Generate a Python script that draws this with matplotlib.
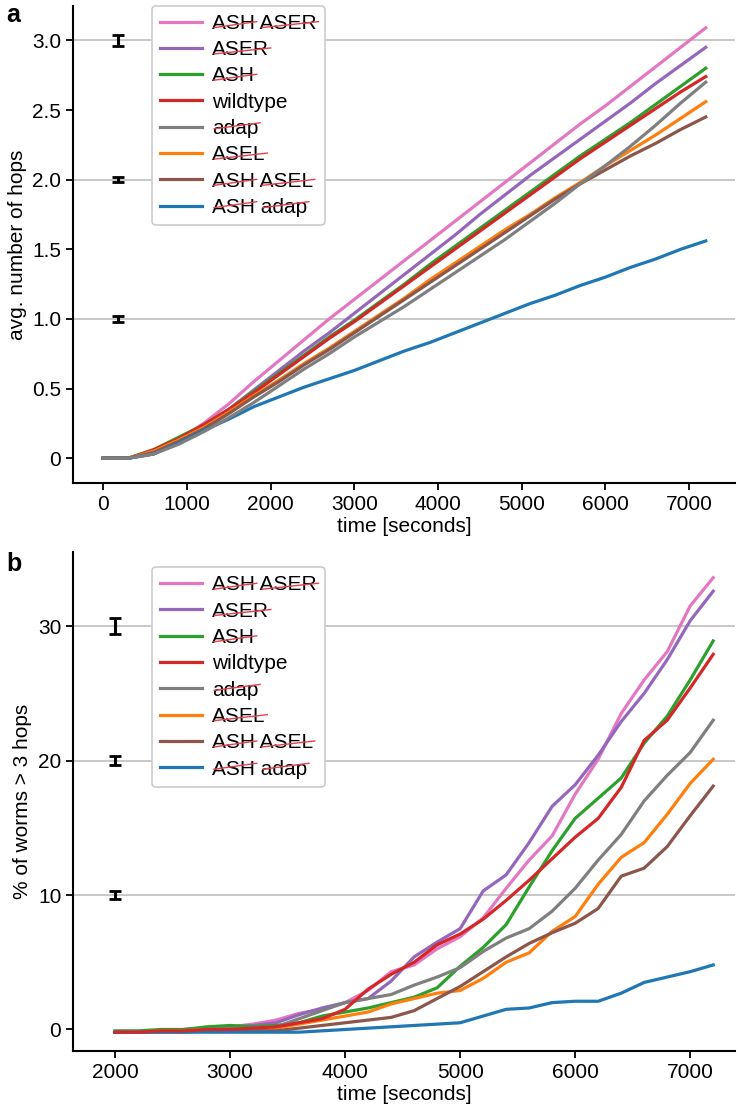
import matplotlib.pyplot as plt
from matplotlib.lines import Line2D

plt.rcParams['font.family'] = ['Liberation Sans', 'DejaVu Sans']

labels = ['ASH ASER', 'ASER', 'ASH', 'wildtype', 'adap', 'ASEL', 'ASH ASEL', 'ASH adap']
colors = ['#e377c2', '#9467bd', '#2ca02c', '#d62728', '#7f7f7f', '#ff7f0e', '#8c564b', '#1f77b4']
# words crossed out in red in the legend (knocked-out neurons)
struck = [['ASH', 'ASER'], ['ASER'], ['ASH'], [], ['adap'], ['ASEL'], ['ASH', 'ASEL'], ['ASH', 'adap']]

# panel a: average number of hops
time_a = list(range(0, 7201, 300))
hops_ash_aser = [0, 0, 0.04, 0.13, 0.25, 0.39, 0.55, 0.70, 0.85, 1.00, 1.14, 1.28, 1.42,
                 1.56, 1.70, 1.84, 1.98, 2.12, 2.26, 2.40, 2.53, 2.67, 2.81, 2.95, 3.09]
hops_aser = [0, 0, 0.03, 0.11, 0.22, 0.35, 0.49, 0.63, 0.77, 0.90, 1.04, 1.18, 1.32,
             1.46, 1.60, 1.75, 1.89, 2.03, 2.16, 2.29, 2.42, 2.55, 2.69, 2.82, 2.95]
hops_ash = [0, 0, 0.06, 0.15, 0.24, 0.35, 0.48, 0.61, 0.74, 0.87, 0.99, 1.12, 1.25,
            1.39, 1.52, 1.65, 1.78, 1.91, 2.04, 2.17, 2.29, 2.41, 2.54, 2.67, 2.80]
hops_wildtype = [0, 0, 0.06, 0.14, 0.24, 0.35, 0.47, 0.60, 0.73, 0.86, 0.98, 1.11, 1.24,
                 1.37, 1.50, 1.63, 1.76, 1.89, 2.02, 2.15, 2.27, 2.39, 2.51, 2.63, 2.74]
hops_adap = [0, 0, 0.03, 0.10, 0.19, 0.29, 0.40, 0.52, 0.64, 0.75, 0.87, 0.98, 1.09,
             1.21, 1.33, 1.45, 1.57, 1.70, 1.83, 1.97, 2.10, 2.24, 2.39, 2.55, 2.70]
hops_asel = [0, 0, 0.05, 0.13, 0.22, 0.33, 0.45, 0.56, 0.68, 0.79, 0.91, 1.03, 1.15,
             1.28, 1.40, 1.52, 1.64, 1.75, 1.87, 1.98, 2.10, 2.21, 2.32, 2.44, 2.56]
hops_ash_asel = [0, 0, 0.04, 0.12, 0.21, 0.32, 0.44, 0.55, 0.67, 0.78, 0.90, 1.02, 1.14,
                 1.26, 1.38, 1.50, 1.62, 1.74, 1.86, 1.97, 2.07, 2.17, 2.26, 2.36, 2.45]
hops_ash_adap = [0, 0, 0.03, 0.11, 0.20, 0.28, 0.37, 0.44, 0.51, 0.57, 0.63, 0.70, 0.77,
                 0.83, 0.90, 0.97, 1.04, 1.11, 1.17, 1.24, 1.30, 1.37, 1.43, 1.50, 1.56]

# panel b: % of worms with more than 3 hops
time_b = list(range(2000, 7201, 200))
pct_ash_aser = [-0.2, -0.2, -0.1, 0.0, 0.1, 0.2, 0.4, 0.7, 1.2, 1.5, 2.0, 2.9, 4.3, 4.8,
                6.0, 6.9, 8.3, 10.5, 12.6, 14.4, 17.5, 20.1, 23.5, 26.0, 28.1, 31.5, 33.6]
pct_aser = [-0.2, -0.2, -0.1, 0.0, 0.1, 0.2, 0.3, 0.5, 1.1, 1.6, 2.0, 2.3, 3.6, 5.4,
            6.5, 7.5, 10.3, 11.5, 13.9, 16.6, 18.2, 20.4, 22.9, 25.0, 27.5, 30.4, 32.6]
pct_ash = [-0.1, -0.1, 0.0, 0.0, 0.2, 0.3, 0.2, 0.3, 0.5, 1.0, 1.3, 1.6, 2.0, 2.4,
           3.1, 4.7, 6.1, 7.8, 10.6, 13.3, 15.7, 17.2, 18.7, 21.3, 23.3, 26.0, 28.9]
pct_wildtype = [-0.2, -0.2, -0.1, -0.1, 0.0, 0.0, 0.1, 0.2, 0.5, 0.8, 1.5, 3.0, 4.1, 5.0,
                6.3, 7.1, 8.2, 9.6, 11.1, 12.7, 14.3, 15.7, 18.0, 21.5, 23.0, 25.4, 27.9]
pct_adap = [-0.2, -0.2, -0.1, -0.1, 0.0, 0.0, 0.1, 0.2, 0.8, 1.4, 2.0, 2.3, 2.6, 3.3,
            3.9, 4.6, 5.8, 6.8, 7.5, 8.8, 10.5, 12.6, 14.5, 17.0, 18.9, 20.6, 23.0]
pct_asel = [-0.2, -0.2, -0.1, -0.1, 0.0, 0.0, 0.0, 0.1, 0.4, 0.7, 1.0, 1.3, 1.9, 2.3,
            2.7, 2.9, 3.8, 5.0, 5.7, 7.3, 8.4, 10.8, 12.8, 13.9, 16.0, 18.3, 20.1]
pct_ash_asel = [-0.2, -0.2, -0.2, -0.2, -0.1, -0.1, -0.1, -0.1, 0.1, 0.3, 0.5, 0.7, 0.9, 1.4,
                2.3, 3.2, 4.3, 5.4, 6.4, 7.2, 7.9, 9.0, 11.4, 12.0, 13.6, 15.9, 18.1]
pct_ash_adap = [-0.2, -0.2, -0.2, -0.2, -0.2, -0.2, -0.2, -0.2, -0.2, -0.1, 0.0, 0.1, 0.2, 0.3,
                0.4, 0.5, 1.0, 1.5, 1.6, 2.0, 2.1, 2.1, 2.7, 3.5, 3.9, 4.3, 4.8]

# reference error bars
err_a_x = 180
err_a_y = [1.0, 2.0, 3.0]
err_a_e = [0.02, 0.02, 0.04]
err_b_x = 2000
err_b_y = [10, 20, 30]
err_b_e = [0.3, 0.35, 0.6]

hops = [hops_ash_aser, hops_aser, hops_ash, hops_wildtype, hops_adap, hops_asel,
        hops_ash_asel, hops_ash_adap]
pct = [pct_ash_aser, pct_aser, pct_ash, pct_wildtype, pct_adap, pct_asel,
       pct_ash_asel, pct_ash_adap]
# drawing order: gray on top in a, red on top in b
z_a = [2, 2, 2, 2, 3, 2, 2, 2]
z_b = [2, 2, 2, 3, 2, 2, 2, 2]

fig = plt.figure(figsize=(7.38, 11.11), dpi=100)
ax_a = fig.add_axes([0.099, 0.565, 0.897, 0.430])
ax_b = fig.add_axes([0.099, 0.054, 0.897, 0.449])

FS = 15


def style(ax):
    for s in ['top', 'right']:
        ax.spines[s].set_visible(False)
    for s in ['left', 'bottom']:
        ax.spines[s].set_linewidth(1.5)
    ax.tick_params(labelsize=FS, width=1.3, length=5)


def add_strikes(leg):
    fig.canvas.draw()
    r = fig.canvas.get_renderer()
    W, H = fig.bbox.width, fig.bbox.height
    for txt, words in zip(leg.get_texts(), struck):
        bb = txt.get_window_extent(r)
        prop = txt.get_fontproperties()
        label = txt.get_text()
        d = r.get_text_width_height_descent(label, prop, ismath=False)[2]
        base = bb.y0 + d
        cap = prop.get_size_in_points() * fig.dpi / 72 * 0.72
        pos = 0
        for w in words:
            i = label.index(w, pos)
            pos = i + len(w)
            x1 = bb.x0 + r.get_text_width_height_descent(label[:pos], prop, ismath=False)[0]
            ww = r.get_text_width_height_descent(w, prop, ismath=False)[0]
            x0 = x1 - ww
            xs = [(x0 + 0.04 * ww) / W, (x1 + 0.1 * cap) / W]
            ys = [(base + 0.35 * cap) / H, (base + 0.75 * cap) / H]
            fig.add_artist(Line2D(xs, ys, transform=fig.transFigure,
                                  color='#e8404a', lw=1.0, zorder=10))


def legend(ax, top):
    leg = ax.legend(loc='upper left', bbox_to_anchor=(0.119, top), borderaxespad=0,
                    fontsize=FS, handlelength=2.0, handletextpad=0.5, labelspacing=0.35,
                    framealpha=1, edgecolor='#cccccc')
    leg.get_frame().set_linewidth(1.2)
    return leg


# panel a
style(ax_a)
for y in err_a_y:
    ax_a.axhline(y, color='#c4c4c4', lw=1.3, zorder=0)
for vals, lab, c, z in zip(hops, labels, colors, z_a):
    ax_a.plot(time_a, vals, color=c, lw=2.3, label=lab, zorder=z)
ax_a.errorbar([err_a_x] * 3, err_a_y, yerr=err_a_e, fmt='none', ecolor='black',
              elinewidth=2.2, capsize=4, capthick=2)
ax_a.set_xlim(-360, 7550)
ax_a.set_ylim(-0.18, 3.25)
ax_a.set_xticks([0, 1000, 2000, 3000, 4000, 5000, 6000, 7000])
ax_a.set_yticks([0, 0.5, 1.0, 1.5, 2.0, 2.5, 3.0])
ax_a.set_yticklabels(['0', '0.5', '1.0', '1.5', '2.0', '2.5', '3.0'])
ax_a.set_xlabel('time [seconds]', fontsize=FS, labelpad=2)
ax_a.set_ylabel('avg. number of hops', fontsize=FS)
leg_a = legend(ax_a, 1.0)

# panel b
style(ax_b)
for y in err_b_y:
    ax_b.axhline(y, color='#c4c4c4', lw=1.3, zorder=0)
for vals, lab, c, z in zip(pct, labels, colors, z_b):
    ax_b.plot(time_b, vals, color=c, lw=2.3, label=lab, zorder=z)
ax_b.errorbar([err_b_x] * 3, err_b_y, yerr=err_b_e, fmt='none', ecolor='black',
              elinewidth=2.2, capsize=4, capthick=2)
ax_b.set_xlim(1635, 7390)
ax_b.set_ylim(-1.6, 35.5)
ax_b.set_xticks([2000, 3000, 4000, 5000, 6000, 7000])
ax_b.set_yticks([0, 10, 20, 30])
ax_b.set_xlabel('time [seconds]', fontsize=FS, labelpad=2)
ax_b.set_ylabel('% of worms > 3 hops', fontsize=FS)
leg_b = legend(ax_b, 0.97)

fig.text(0.008, 0.997, 'a', fontsize=18, fontweight='bold', va='top')
fig.text(0.008, 0.503, 'b', fontsize=18, fontweight='bold', va='top')

add_strikes(leg_a)
add_strikes(leg_b)

fig.savefig('out.png', dpi=100)
